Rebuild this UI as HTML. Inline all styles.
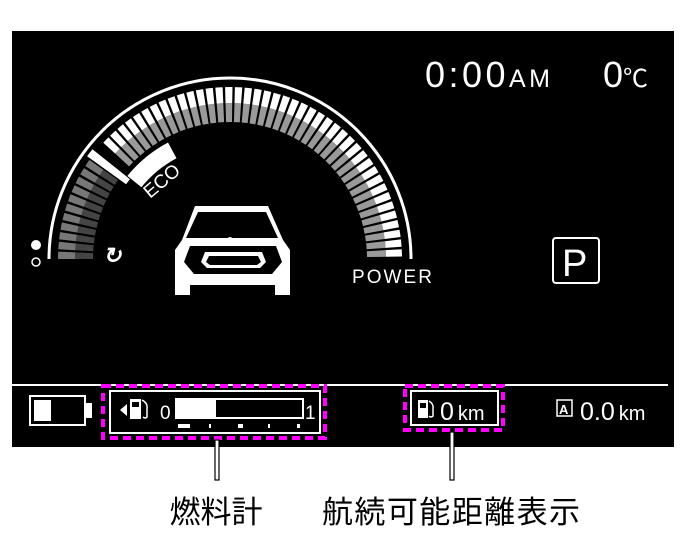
<!DOCTYPE html><html><head><meta charset="utf-8"><style>
body{margin:0;background:#fff;width:686px;height:556px;overflow:hidden;font-family:"Liberation Sans","Noto Sans CJK JP",sans-serif}
svg{position:absolute;left:0;top:0}
</style></head><body>
<svg width="686" height="556" viewBox="0 0 686 556" font-family="Liberation Sans, Noto Sans CJK JP, sans-serif">
<rect x="12" y="31" width="662" height="416" fill="#000"/>
<g id="bars"></g>
<path d="M49 259 A181 181 0 0 1 411 259" fill="none" stroke="#fff" stroke-width="3"/>
<text x="0" y="0" fill="#fff" font-size="19" transform="translate(150,199) rotate(-40)">ECO</text>
<text x="352" y="283" fill="#fff" font-size="19" textLength="80">POWER</text>
<circle cx="36" cy="245" r="5" fill="#fff"/>
<circle cx="36" cy="262" r="4" fill="none" stroke="#fff" stroke-width="1.5"/>
<text x="103" y="263" fill="#fff" font-size="22" font-weight="bold" font-style="italic">↻</text>
<!-- car -->
<path d="M195 206 L268 206 L283 240 L290 250 L290 295 L275 295 L275 285 L190 285 L190 295 L175 295 L175 250 L182 240 Z" fill="#fff"/>
<path d="M198 212 L266 212 L278 238 L186 238 Z" fill="#000"/>
<path d="M190 246 L276 246 L282 262 L272 274 L194 274 L184 262 Z" fill="#000"/>
<path d="M205 252 L262 252 L266 262 L260 268 L207 268 L201 262 Z" fill="#fff"/>
<path d="M209 256 L258 256 L261 262 L257 265 L210 265 L206 262 Z" fill="#000"/>
<circle cx="230" cy="240" r="3" fill="#fff"/>
<text x="425" y="87" fill="#fff" font-size="36" textLength="125">0:00<tspan font-size="25">AM</tspan></text>
<text x="603" y="87" fill="#fff" font-size="36">0<tspan font-size="25">℃</tspan></text>
<rect x="553" y="238" width="46" height="45" rx="3" fill="none" stroke="#fff" stroke-width="2"/>
<text x="562" y="276" fill="#fff" font-size="38">P</text>
<line x1="12" y1="385" x2="668" y2="385" stroke="#fff" stroke-width="2"/>
<rect x="30" y="396" width="55" height="29" fill="none" stroke="#fff" stroke-width="2"/>
<rect x="34" y="400" width="17" height="21" fill="#fff"/>
<rect x="86" y="403" width="6" height="15" fill="#fff"/>
<rect x="103" y="386" width="222" height="52" fill="none" stroke="#f0f" stroke-width="4" stroke-dasharray="8,5"/>
<rect x="110" y="391" width="210" height="42" fill="none" stroke="#fff" stroke-width="2"/>
<path d="M120 410 L127 404 L127 416 Z" fill="#fff"/>
<rect x="130" y="399" width="11" height="20" fill="#fff"/><rect x="132" y="402" width="7" height="5" fill="#000"/>
<path d="M142 400 q6 3 5 9 l0 8 q-2 2 -4 0" fill="none" stroke="#fff" stroke-width="1.5"/>
<text x="160" y="419" fill="#fff" font-size="19">0</text>
<rect x="176" y="399" width="127" height="19" fill="none" stroke="#fff" stroke-width="2"/>
<rect x="176" y="399" width="40" height="19" fill="#fff"/>
<text x="305" y="419" fill="#fff" font-size="19">1</text>
<rect x="178" y="424" width="12" height="4" fill="#fff"/><rect x="209" y="424" width="2" height="4" fill="#fff"/>
<rect x="238" y="424" width="5" height="4" fill="#fff"/><rect x="268" y="424" width="2" height="4" fill="#fff"/><rect x="297" y="424" width="3" height="4" fill="#fff"/>
<rect x="405" y="386" width="98" height="44" fill="none" stroke="#f0f" stroke-width="4" stroke-dasharray="8,5"/>
<rect x="411" y="391" width="87" height="34" fill="none" stroke="#fff" stroke-width="2"/>
<rect x="418" y="400" width="10" height="18" fill="#fff"/><rect x="420" y="403" width="6" height="5" fill="#000"/>
<path d="M429 401 q5 3 4 8 l0 7 q-2 2 -4 0" fill="none" stroke="#fff" stroke-width="1.5"/>
<text x="440" y="420" fill="#fff" font-size="25">0<tspan font-size="20" dx="4">km</tspan></text>
<rect x="557" y="400" width="15" height="16" fill="none" stroke="#fff" stroke-width="1.5"/>
<text x="559" y="414" fill="#fff" font-size="13" font-weight="bold">A</text>
<text x="580" y="420" fill="#fff" font-size="25">0.0<tspan font-size="20" dx="4">km</tspan></text>
<rect x="215" y="440" width="4" height="40" fill="#fff" stroke="#000" stroke-width="1.2"/>
<rect x="450" y="432" width="4" height="48" fill="#fff" stroke="#000" stroke-width="1.2"/>
<text x="216" y="523" fill="#000" font-size="31" text-anchor="middle">燃料計</text>
<text x="451" y="523" fill="#000" font-size="31" text-anchor="middle" textLength="258">航続可能距離表示</text>
</svg>
<script>
var cx=230,cy=259,g=document.getElementById('bars'),s='';
function P(a,r){return [(cx+r*Math.cos(a)).toFixed(1),(cy-r*Math.sin(a)).toFixed(1)];}
function seg(a1,a2,r1,r2,c){var p1=P(a1,r1),p2=P(a1,r2),p3=P(a2,r2),p4=P(a2,r1);
s+='<path fill="'+c+'" d="M'+p1+' L'+p2+' A'+r2+' '+r2+' 0 0 0 '+p3+' L'+p4+' A'+r1+' '+r1+' 0 0 1 '+p1+'Z"/>';}
var N=55,st=Math.PI/N;
for(var i=0;i<N;i++){var a=Math.PI-i*st,a2=a-st*0.75;
 var deg=a*180/Math.PI;
 if(deg>146){seg(a2,a,137,155,'#444');seg(a2,a,155,172,'#777');}
 else if(deg>140){}
 else{seg(a2,a,137,156,'#999');seg(a2,a,156,172,'#fff');}
}
var d=144*Math.PI/180;seg(d-0.045,d+0.005,128,176,'#fff');
var e1=118*Math.PI/180,e2=141*Math.PI/180;seg(e1,e2,114,132,'#fff');
g.innerHTML=s;
</script>
</body></html>
